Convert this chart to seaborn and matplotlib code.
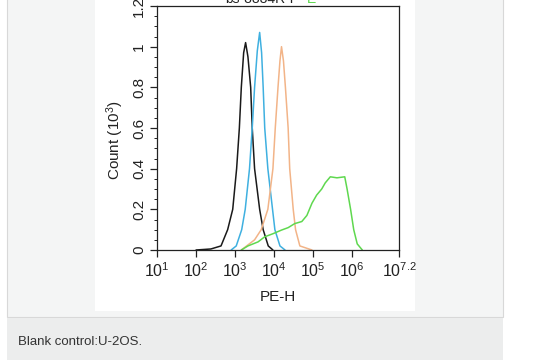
"""
Flow cytometry overlay: PE-H histograms on U-2OS
"""
import numpy as np
import pandas as pd
import matplotlib
matplotlib.use("Agg")
import matplotlib.pyplot as plt
from matplotlib.patches import Rectangle
import seaborn as sns

# log10(PE-H) positions and counts (10^3)
black_exp = [2.0, 2.38, 2.64, 2.81, 2.94, 3.04, 3.11, 3.16, 3.22, 3.27, 3.33, 3.40, 3.44, 3.50, 3.63, 3.72, 3.85, 3.97]
black_cnt = [0.0, 0.005, 0.02, 0.1, 0.2, 0.4, 0.6, 0.8, 0.97, 1.02, 0.95, 0.8, 0.6, 0.4, 0.2, 0.1, 0.02, 0.0]

blue_exp = [2.9, 3.03, 3.17, 3.26, 3.37, 3.44, 3.50, 3.57, 3.63, 3.68, 3.72, 3.76, 3.84, 3.96, 4.02, 4.15, 4.28]
blue_cnt = [0.0, 0.02, 0.1, 0.2, 0.4, 0.6, 0.8, 0.98, 1.07, 0.97, 0.8, 0.6, 0.4, 0.2, 0.1, 0.02, 0.0]

orange_exp = [3.16, 3.5, 3.67, 3.84, 3.97, 4.03, 4.10, 4.15, 4.19, 4.24, 4.29, 4.36, 4.40, 4.49, 4.55, 4.66, 4.97]
orange_cnt = [0.0, 0.05, 0.1, 0.2, 0.4, 0.6, 0.8, 0.93, 1.0, 0.93, 0.8, 0.6, 0.4, 0.2, 0.1, 0.02, 0.0]

green_exp = [3.16, 3.33, 3.59, 3.76, 3.97, 4.19, 4.36, 4.53, 4.71, 4.84, 4.97, 5.09, 5.22, 5.31, 5.44,
             5.61, 5.81, 5.87, 5.96, 6.04, 6.13, 6.26]
green_cnt = [0.0, 0.02, 0.04, 0.065, 0.08, 0.098, 0.11, 0.13, 0.14, 0.17, 0.23, 0.27, 0.3, 0.33, 0.36,
             0.355, 0.36, 0.3, 0.2, 0.1, 0.03, 0.0]

x_tick_exp = [1, 2, 3, 4, 5, 6, 7.2]
x_tick_labels = ["1", "2", "3", "4", "5", "6", "7.2"]
y_ticks = [0, 0.2, 0.4, 0.6, 0.8, 1.0, 1.2]
y_tick_labels = ["0", "0.2", "0.4", "0.6", "0.8", "1", "1.2"]

series = {
    "black": (black_exp, black_cnt, "#1a1a1a"),
    "blue": (blue_exp, blue_cnt, "#3fb0e0"),
    "orange": (orange_exp, orange_cnt, "#f2b488"),
    "green": (green_exp, green_cnt, "#5fd84f"),
}

sns.set_style("ticks")
plt.rcParams["font.family"] = ["Liberation Sans", "DejaVu Sans"]
plt.rcParams["mathtext.fontset"] = "custom"
plt.rcParams["mathtext.rm"] = "Liberation Sans"

W, H = 535, 360
fig = plt.figure(figsize=(W / 100, H / 100), dpi=100)
fig.patch.set_facecolor("white")


def px_rect(x0, y0, x1, y1, fc, ec="none", lw=0):
    # pixel box (top-left origin) -> figure fraction
    fig.add_artist(Rectangle((x0 / W, 1 - y1 / H), (x1 - x0) / W, (y1 - y0) / H,
                             transform=fig.transFigure, facecolor=fc,
                             edgecolor=ec, linewidth=lw, zorder=0))


px_rect(7, -2, 503, 317, "#f4f5f5", "#d8d8d8", 0.8)
px_rect(95, 0, 415, 311, "white")
px_rect(7, 318, 503, 362, "#eceded")

ax = fig.add_axes([157 / W, 1 - 250 / H, 242 / W, 244 / H])
ax.set_facecolor("white")

for name, (ex, cnt, col) in series.items():
    df = pd.DataFrame({"pe": np.power(10.0, ex), "count": cnt})
    sns.lineplot(data=df, x="pe", y="count", color=col, linewidth=1.1,
                 estimator=None, sort=False, ax=ax)

ax.set_xscale("log")
ax.set_xlim(10, 10 ** 7.2)
ax.set_ylim(0, 1.2)
ax.set_xticks([10 ** e for e in x_tick_exp])
ax.set_xticklabels([r"$\mathdefault{10^{%s}}$" % t for t in x_tick_labels], fontsize=11.5)
ax.set_yticks(y_ticks)
ax.set_yticklabels(y_tick_labels, rotation=90, va="center", fontsize=11)
ax.set_yticks(np.arange(0, 1.21, 0.05), minor=True)
ax.tick_params(axis="both", which="major", length=5, width=0.9, color="#222222",
               labelcolor="#222222", pad=3)
ax.tick_params(axis="both", which="minor", length=2.5, width=0.7, color="#222222")
for s in ax.spines.values():
    s.set_visible(True)
    s.set_color("#222222")
    s.set_linewidth(0.9)

ax.set_xlabel("PE-H", fontsize=11, color="#222222", labelpad=7)
ax.set_ylabel(r"Count ($\mathdefault{10^{3}}$)", fontsize=11, color="#222222")
ax.yaxis.set_label_coords(-0.127, 0.45)

# title is cut off at the top of the image
fig.text(262 / W, 1 - 3 / H, "bs-8884R-P", ha="center", va="baseline",
         fontsize=10, color="#222222")
fig.text(307 / W, 1 - 3 / H, "E", ha="left", va="baseline",
         fontsize=10, color="#5fd84f")

fig.text(18 / W, 1 - 342 / H, "Blank control:U-2OS.", ha="left", va="center",
         fontsize=9.5, color="#333333")

fig.savefig("out.png", dpi=100, facecolor=fig.get_facecolor())
plt.close(fig)
